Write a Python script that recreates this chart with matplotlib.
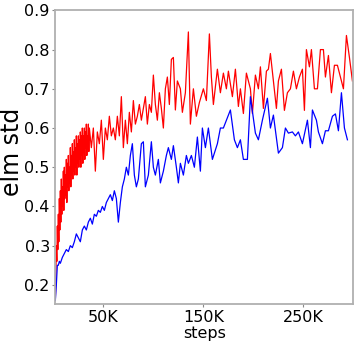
import matplotlib
matplotlib.use('Agg')
import matplotlib.pyplot as plt
from matplotlib.ticker import FixedLocator

# red run, first part logged every 0.5K (steps in thousands)
red_early = [
    0.16, 0.22, 0.30, 0.26, 0.35, 0.29, 0.38, 0.31, 0.42, 0.34,
    0.44, 0.36, 0.47, 0.38, 0.45, 0.40, 0.49, 0.39, 0.50, 0.42,
    0.48, 0.43, 0.52, 0.41, 0.51, 0.45, 0.53, 0.44, 0.50, 0.46,
    0.55, 0.45, 0.53, 0.48, 0.56, 0.47, 0.54, 0.49, 0.57, 0.48,
    0.55, 0.50, 0.58, 0.48, 0.56, 0.51, 0.58, 0.50, 0.57, 0.52,
    0.59, 0.50, 0.58, 0.53, 0.60, 0.51, 0.58, 0.54, 0.60, 0.52,
    0.59, 0.55, 0.61, 0.53, 0.58, 0.56, 0.61, 0.54, 0.60,
]
red_early_steps = [2 + 0.5 * i for i in range(len(red_early))]

red_late_steps = (list(range(38, 60, 2)) + list(range(60, 120, 2)) +
                  [120, 122, 124, 127, 129, 132, 135, 137, 140, 143, 146, 150, 153, 156, 158,
                   160, 164, 167, 170, 173, 175, 179, 182, 185, 187, 190, 193, 197, 199, 202,
                   205, 207, 210, 213, 215, 217, 220, 223, 225, 228, 231, 234, 237, 240, 243,
                   246, 249, 251, 253, 256, 258, 261, 264, 267, 270, 272, 275, 278, 281, 284,
                   287, 290, 293, 296, 299])
red_late = [
    0.55, 0.60, 0.49, 0.59, 0.56, 0.62, 0.52, 0.60, 0.57, 0.63, 0.58,
    0.60, 0.57, 0.63, 0.58, 0.68, 0.55, 0.62, 0.56, 0.64, 0.59,
    0.67, 0.61, 0.63, 0.66, 0.62, 0.65, 0.68, 0.61, 0.66, 0.64,
    0.735, 0.66, 0.62, 0.69, 0.65, 0.60, 0.70, 0.73, 0.66, 0.775,
    0.78, 0.646, 0.72, 0.70, 0.64, 0.69, 0.845, 0.61, 0.70, 0.63,
    0.665, 0.70, 0.67, 0.84, 0.73, 0.66, 0.75, 0.69, 0.74, 0.70,
    0.745, 0.68, 0.75, 0.655, 0.70, 0.637, 0.74, 0.70, 0.637, 0.735,
    0.70, 0.756, 0.65, 0.745, 0.75, 0.79, 0.72, 0.65, 0.72, 0.75,
    0.645, 0.69, 0.70, 0.745, 0.70, 0.73, 0.75, 0.645, 0.80, 0.756,
    0.80, 0.70, 0.70, 0.80, 0.80, 0.73, 0.785, 0.69, 0.76, 0.76,
    0.73, 0.70, 0.836, 0.78, 0.72,
]

blue_steps = [
    2, 3, 4, 5, 6, 7, 9, 11, 13, 15, 17, 19, 21, 23, 25, 27, 29, 31, 33, 35,
    37, 39, 41, 43, 45, 47, 49, 51, 53, 55, 57, 59, 61, 63, 65, 67, 69, 71, 73, 75,
    77, 79, 81, 83, 85, 88, 90, 92, 95, 98, 100, 102, 105, 107, 110, 113, 115, 118, 120, 123,
    125, 127, 130, 133, 135, 138, 141, 144, 147, 149, 152, 155, 159, 164, 167, 170, 177, 181, 184, 187,
    190, 194, 197, 202, 205, 209, 214, 217, 220, 225, 229, 232, 235, 239, 242, 245, 249, 254, 257, 259,
    263, 265, 269, 272, 275, 279, 282, 285, 288, 291, 294, 298,
]
blue_vals = [
    0.16, 0.20, 0.25, 0.25, 0.26, 0.255, 0.27, 0.28, 0.29, 0.285,
    0.30, 0.295, 0.31, 0.33, 0.32, 0.31, 0.34, 0.35, 0.34, 0.36,
    0.37, 0.355, 0.38, 0.375, 0.39, 0.385, 0.40, 0.39, 0.41, 0.42,
    0.43, 0.415, 0.44, 0.42, 0.36, 0.41, 0.45, 0.47, 0.50, 0.48,
    0.53, 0.56, 0.48, 0.45, 0.47, 0.56, 0.565, 0.45, 0.48, 0.565,
    0.50, 0.48, 0.52, 0.46, 0.49, 0.53, 0.55, 0.52, 0.555, 0.50,
    0.46, 0.51, 0.48, 0.53, 0.51, 0.53, 0.50, 0.577, 0.49, 0.60,
    0.55, 0.60, 0.52, 0.56, 0.60, 0.60, 0.646, 0.57, 0.55, 0.57,
    0.52, 0.52, 0.68, 0.587, 0.57, 0.62, 0.676, 0.60, 0.633, 0.536,
    0.55, 0.60, 0.587, 0.59, 0.58, 0.59, 0.56, 0.62, 0.55, 0.646,
    0.62, 0.59, 0.56, 0.593, 0.593, 0.63, 0.636, 0.593, 0.69, 0.60,
    0.57,
]

plt.rcParams['font.family'] = ['DejaVu Sans']

fig, ax = plt.subplots(figsize=(3.57, 3.46), dpi=100)
fig.subplots_adjust(left=0.155, right=0.99, top=0.97, bottom=0.12)

red_steps = red_early_steps + red_late_steps
red_vals = red_early + red_late
n_red = min(len(red_steps), len(red_vals))
n_blue = min(len(blue_steps), len(blue_vals))
ax.plot([s * 1000 for s in red_steps[:n_red]], red_vals[:n_red], color='red', linewidth=0.9)
ax.plot([s * 1000 for s in blue_steps[:n_blue]], blue_vals[:n_blue], color='blue', linewidth=0.9)

ax.set_xlim(2000, 300000)
ax.set_ylim(0.15, 0.9)
ax.xaxis.set_major_locator(FixedLocator([50000, 150000, 250000]))
ax.set_xticklabels(['50K', '150K', '250K'])
ax.set_yticks([0.2, 0.3, 0.4, 0.5, 0.6, 0.7, 0.8, 0.9])
ax.tick_params(labelsize=11.5, colors='#888888', labelcolor='black', length=2, pad=2)
for sp in ax.spines.values():
    sp.set_color('#b0b0b0')
    sp.set_linewidth(1.3)

ax.set_xlabel('steps', fontsize=11.5, labelpad=1)
ax.set_ylabel('elm std', fontsize=17)
ax.yaxis.set_label_coords(-0.105, 0.52)

fig.savefig('out.png', dpi=100)
